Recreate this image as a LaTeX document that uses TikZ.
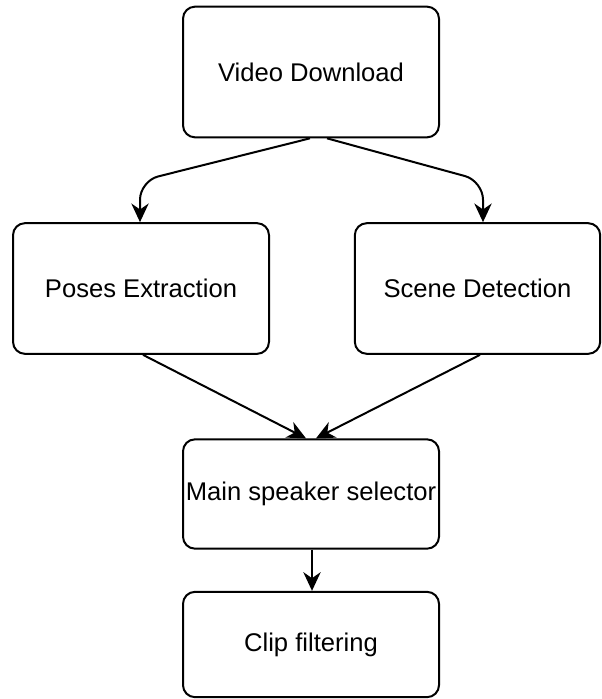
\documentclass[tikz,border=0pt]{standalone}
\usepackage{fontspec}
\setmainfont{Liberation Sans}
\usetikzlibrary{arrows.meta}
\begin{document}
\begin{tikzpicture}[x=0.75pt,y=-0.75pt,
  box/.style={draw=black,line width=1.5pt,rounded corners=9pt,fill=white,inner sep=0pt,font=\fontsize{19.2pt}{23pt}\selectfont},
  conn/.style={draw=black,line width=1.5pt,-{Stealth[length=14pt,width=13pt,inset=4.5pt]}}]
\useasboundingbox (0,0) rectangle (601,699);
\node[box,minimum width=192pt,minimum height=98pt] (vd) at (311,72) {Video Download};
\node[box,minimum width=192pt,minimum height=98pt] (pe) at (141,288.5) {Poses Extraction};
\node[box,minimum width=184pt,minimum height=98pt] (sd) at (477.5,288.5) {Scene Detection};
\node[box,minimum width=192pt,minimum height=82pt] (ms) at (311,494) {Main speaker selector};
\node[box,minimum width=192pt,minimum height=79pt] (cf) at (311,644.5) {Clip filtering};
\coordinate (l1) at (140,181);
\coordinate (r1) at (483,181);
\draw[conn,rounded corners=14pt] (vd.south -| 310,0) -- (l1) -- (pe.north -| l1);
\draw[conn,rounded corners=14pt] (vd.south -| 327,0) -- (r1) -- (sd.north -| r1);
\draw[conn] (pe.south -| 143,0) -- (ms.north -| 306,0);
\draw[conn] (sd.south -| 480,0) -- (ms.north -| 316,0);
\draw[conn] (ms.south -| 312,0) -- (cf.north -| 312,0);
\end{tikzpicture}
\end{document}
